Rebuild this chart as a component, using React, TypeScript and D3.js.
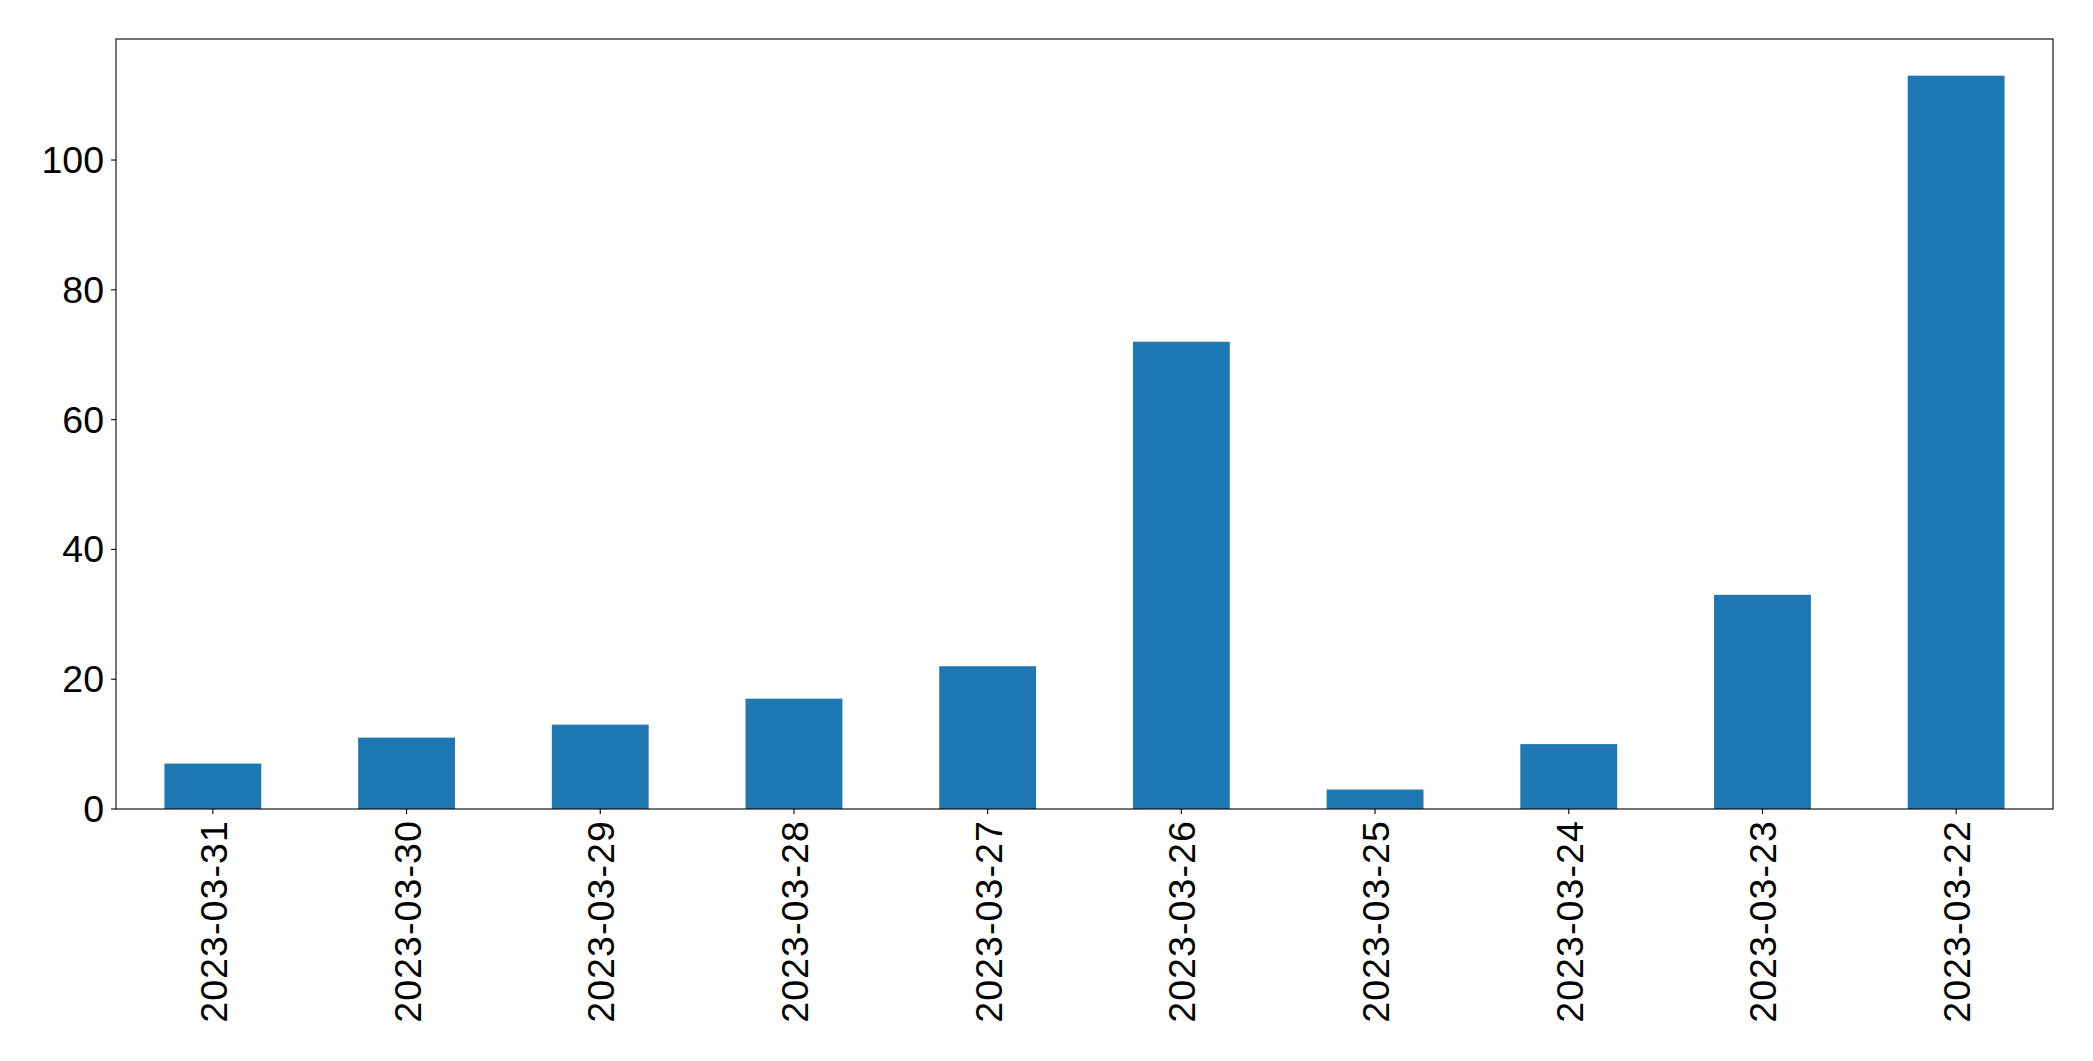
import React from "react";
import * as d3 from "d3";

const categories = ["2023-03-31","2023-03-30","2023-03-29","2023-03-28","2023-03-27","2023-03-26","2023-03-25","2023-03-24","2023-03-23","2023-03-22"];
const values = [7, 11, 13, 17, 22, 72, 3, 10, 33, 113];
const yTicks = [0, 20, 40, 60, 80, 100];

export default function App() {
  const W = 2093, H = 1061;
  const left = 116, right = 2053, top = 39, bottom = 809;
  const x = d3.scaleBand<string>().domain(categories).range([left, right]).paddingInner(0.5).paddingOuter(0.25);
  const ymax = d3.max(values)! * 1.05;
  const y = d3.scaleLinear().domain([0, ymax]).range([bottom, top]);
  const fs = 37.5;
  const font = "Liberation Sans, Arial, sans-serif";
  return (
    <svg width={W} height={H} style={{ position: "absolute", left: 0, top: 0 }}>
      <rect x={0} y={0} width={W} height={H} fill="#fff" />
      {categories.map((c, i) => (
        <rect key={c} x={x(c)!} y={y(values[i])} width={x.bandwidth()} height={bottom - y(values[i])} fill="#1f77b4" />
      ))}
      <rect x={left} y={top} width={right - left} height={bottom - top} fill="none" stroke="#000" strokeWidth={1.1} />
      {yTicks.map((t) => (
        <g key={t}>
          <line x1={left - 4.9} x2={left} y1={y(t)} y2={y(t)} stroke="#000" strokeWidth={1.1} />
          <text x={left - 12} y={y(t)} textAnchor="end" dominantBaseline="central" fontFamily={font} fontSize={fs} fill="#000">{t}</text>
        </g>
      ))}
      {categories.map((c) => {
        const cx = x(c)! + x.bandwidth() / 2;
        return (
          <g key={c}>
            <line x1={cx} x2={cx} y1={bottom} y2={bottom + 4.9} stroke="#000" strokeWidth={1.1} />
            <text transform={`translate(${cx + 1},${bottom + 11}) rotate(-90)`} textAnchor="end" dominantBaseline="central" fontFamily={font} fontSize={fs} letterSpacing={1.1} fill="#000">{c}</text>
          </g>
        );
      })}
    </svg>
  );
}
